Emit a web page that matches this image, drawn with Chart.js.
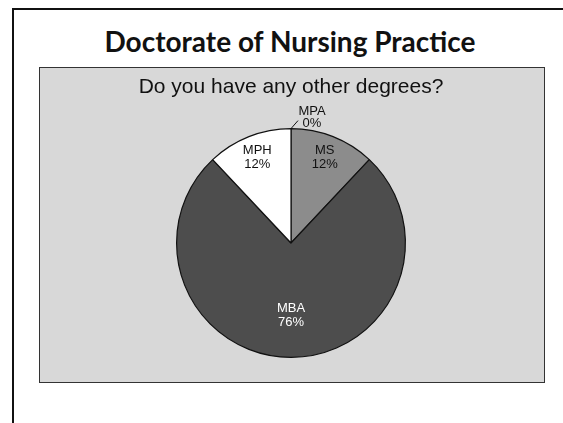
<!DOCTYPE html>
<html>
<head>
<meta charset="utf-8">
<script src="https://cdn.jsdelivr.net/npm/chart.js@4"></script>
<style>
  body { margin: 0; background: #fff; width: 563px; height: 423px; overflow: hidden; position: relative; }
  #frameTop { position: absolute; left: 12px; top: 8px; width: 551px; height: 2px; background: #111; }
  #frameLeft { position: absolute; left: 12px; top: 8px; width: 2px; height: 415px; background: #111; }
  h1 { position: absolute; left: 0; width: 580px; top: 24px; margin: 0; text-align: center;
       font: bold 28px Lato, sans-serif; color: #111; }
  #box { position: absolute; left: 39px; top: 67px; width: 504px; height: 314px;
         border: 1.5px solid #333; background: #d8d8d8; }
  #box canvas { position: absolute; left: 0; top: 0; }
</style>
</head>
<body>
<div id="frameTop"></div>
<div id="frameLeft"></div>
<h1>Doctorate of Nursing Practice</h1>
<div id="box"><canvas id="canvas" width="504" height="314"></canvas></div>
<script>
// données (pourcentages)
const chartTitle = 'Do you have any other degrees?';
const categories = ['MPA', 'MS', 'MBA', 'MPH'];
const percents = [0, 12, 76, 12];
const sliceColors = ['#9a9a9a', '#8c8c8c', '#4d4d4d', '#ffffff'];
const labelColors = ['#111', '#111', '#fff', '#111'];

// titre du graphique, centré au-dessus du camembert
const pieTitle = {
    id: 'pieTitle',
    afterDraw(chart) {
        const ctx = chart.ctx;
        const arc = chart.getDatasetMeta(0).data[0];
        ctx.save();
        ctx.font = '21px "Liberation Sans", Arial, sans-serif';
        ctx.fillStyle = '#111';
        ctx.textAlign = 'center';
        ctx.textBaseline = 'alphabetic';
        ctx.fillText(chartTitle, arc.x, 25);
        ctx.restore();
    }
};

// étiquettes "nom + %" dans les parts, et à l'extérieur avec un trait pour la part nulle
const sliceLabels = {
    id: 'sliceLabels',
    afterDatasetsDraw(chart) {
        const ctx = chart.ctx;
        const arcs = chart.getDatasetMeta(0).data;
        ctx.save();
        ctx.font = '13px "Liberation Sans", Arial, sans-serif';
        ctx.textAlign = 'center';
        ctx.textBaseline = 'middle';
        arcs.forEach(function(arc, i) {
            const p = arc.getProps(['x', 'y', 'startAngle', 'endAngle', 'outerRadius']);
            const txt = percents[i] + '%';
            if (percents[i] === 0) {
                const ax = p.x + Math.cos(p.startAngle) * p.outerRadius;
                const ay = p.y + Math.sin(p.startAngle) * p.outerRadius;
                ctx.strokeStyle = '#111';
                ctx.lineWidth = 1;
                ctx.beginPath();
                ctx.moveTo(ax, ay);
                ctx.lineTo(ax + 7, ay - 8);
                ctx.stroke();
                ctx.fillStyle = labelColors[i];
                ctx.fillText(categories[i], ax + 21, ay - 17);
                ctx.fillText(txt, ax + 21, ay - 5);
                return;
            }
            const mid = (p.startAngle + p.endAngle) / 2;
            const f = percents[i] > 50 ? 0.63 : 0.8;
            const x = p.x + Math.cos(mid) * p.outerRadius * f;
            const y = p.y + Math.sin(mid) * p.outerRadius * f;
            ctx.fillStyle = labelColors[i];
            ctx.fillText(categories[i], x, y - 7);
            ctx.fillText(txt, x, y + 7);
        });
        ctx.restore();
    }
};

new Chart(document.getElementById('canvas'), {
    type: 'pie',
    data: {
        labels: categories,
        datasets: [{
            data: percents,
            backgroundColor: sliceColors,
            borderColor: '#111',
            borderWidth: 1.2
        }]
    },
    options: {
        responsive: false,
        animation: false,
        layout: { padding: { left: 136, right: 138, top: 60, bottom: 24 } },
        plugins: {
            legend: { display: false },
            tooltip: { enabled: false },
            title: { display: false }
        }
    },
    plugins: [sliceLabels, pieTitle]
});
</script>
</body>
</html>
